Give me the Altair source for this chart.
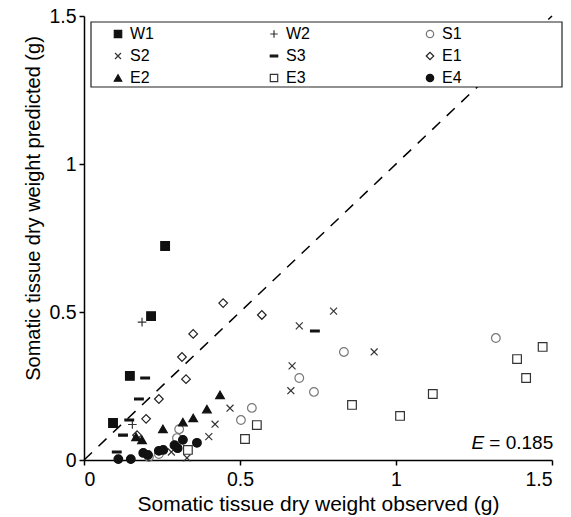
import altair as alt
import pandas as pd

series_names = ["W1", "W2", "S1", "S2", "S3", "E1", "E2", "E3", "E4"]

w1_x = [0.093, 0.147, 0.215, 0.260]
w1_y = [0.125, 0.284, 0.486, 0.723]
w2_x = [0.186, 0.155]
w2_y = [0.466, 0.120]
s1_x = [1.320, 0.833, 0.690, 0.737, 0.538, 0.503, 0.305, 0.298, 0.208, 0.240]
s1_y = [0.412, 0.365, 0.277, 0.230, 0.176, 0.135, 0.104, 0.074, 0.010, 0.020]
s2_x = [0.800, 0.690, 0.930, 0.667, 0.663, 0.468, 0.420, 0.400, 0.330, 0.280]
s2_y = [0.503, 0.453, 0.365, 0.318, 0.234, 0.175, 0.121, 0.079, 0.007, 0.027]
s3_x = [0.196, 0.176, 0.125, 0.105, 0.740, 0.145]
s3_y = [0.277, 0.206, 0.084, 0.027, 0.436, 0.135]
e1_x = [0.446, 0.570, 0.350, 0.314, 0.327, 0.240, 0.199, 0.170]
e1_y = [0.530, 0.490, 0.426, 0.348, 0.273, 0.206, 0.139, 0.084]
e2_x = [0.436, 0.394, 0.350, 0.317, 0.253, 0.167, 0.186]
e2_y = [0.220, 0.172, 0.142, 0.128, 0.105, 0.078, 0.068]
e3_x = [1.470, 1.388, 1.417, 1.118, 1.013, 0.859, 0.554, 0.516, 0.333]
e3_y = [0.382, 0.341, 0.277, 0.223, 0.149, 0.186, 0.118, 0.071, 0.034]
e4_x = [0.110, 0.150, 0.190, 0.205, 0.240, 0.254, 0.290, 0.300, 0.317, 0.362]
e4_y = [0.003, 0.003, 0.024, 0.017, 0.031, 0.034, 0.050, 0.040, 0.068, 0.058]

tick_values = [0, 0.5, 1, 1.5]

line_x = [0.0, 1.5]
line_y = [0.0, 1.5]

annot_E = "E"
annot_val = "= 0.185"

all_x = [w1_x, w2_x, s1_x, s2_x, s3_x, e1_x, e2_x, e3_x, e4_x]
all_y = [w1_y, w2_y, s1_y, s2_y, s3_y, e1_y, e2_y, e3_y, e4_y]

rows = []
for name, xs, ys in zip(series_names, all_x, all_y):
    for xv, yv in zip(xs, ys):
        rows.append({"series": name, "obs": xv, "pred": yv})
df = pd.DataFrame(rows)

plus = "M-1,0L1,0M0,-1L0,1"
cross = "M-0.8,-0.8L0.8,0.8M-0.8,0.8L0.8,-0.8"
dash = "M-1,-0.22L1,-0.22L1,0.22L-1,0.22Z"
shapes = ["square", plus, "circle", cross, dash, "diamond", "triangle-up", "square", "circle"]
fills = ["#111111", "transparent", "transparent", "transparent", "#111111",
         "transparent", "#111111", "transparent", "#111111"]
strokes = ["#111111", "#333333", "#777777", "#333333", "#111111",
           "#222222", "#111111", "#333333", "#111111"]

FONT = "Liberation Sans"
xscale = alt.Scale(domain=[0, 1.5], nice=False, zero=False)
yscale = alt.Scale(domain=[0, 1.5], nice=False, zero=False)

legend = alt.Legend(
    orient="none", legendX=26, legendY=10, columns=3, columnPadding=112,
    rowPadding=6, labelFontSize=16, labelFont=FONT, labelColor="black",
    labelOffset=4, symbolSize=55, symbolStrokeWidth=1.2, padding=0,
    direction="horizontal", title=None,
)

xaxis = alt.Axis(values=tick_values, format=".1~f", labelPadding=5, titlePadding=5, titleFontSize=21)
yaxis = alt.Axis(values=tick_values, format=".1~f", labelPadding=3, titleFontSize=20,
                 titleX=-51, titleY=192, titleBaseline="middle")

points = alt.Chart(df).mark_point(size=75, strokeWidth=1.2, opacity=1).encode(
    x=alt.X("obs:Q", scale=xscale, axis=xaxis, title="Somatic tissue dry weight observed (g)"),
    y=alt.Y("pred:Q", scale=yscale, axis=yaxis, title="Somatic tissue dry weight predicted (g)"),
    shape=alt.Shape("series:N", scale=alt.Scale(domain=series_names, range=shapes), legend=legend, title=None),
    fill=alt.Fill("series:N", scale=alt.Scale(domain=series_names, range=fills), legend=legend, title=None),
    stroke=alt.Stroke("series:N", scale=alt.Scale(domain=series_names, range=strokes), legend=legend, title=None),
)

line = alt.Chart(pd.DataFrame({"obs": line_x, "pred": line_y})).mark_line(
    color="black", strokeWidth=1.5, strokeDash=[11, 9]
).encode(x=alt.X("obs:Q", scale=xscale), y=alt.Y("pred:Q", scale=yscale))

box = alt.Chart(pd.DataFrame({"a": [0]})).mark_rect(
    fill="white", stroke="#222222", strokeWidth=1.2
).encode(x=alt.value(7), x2=alt.value(478), y=alt.value(6), y2=alt.value(71))

annot_df = pd.DataFrame({"obs": [1.283], "pred": [0.057], "e": [annot_E], "v": [annot_val]})
t_e = alt.Chart(annot_df).mark_text(
    align="right", baseline="middle", fontSize=19, font=FONT, fontStyle="italic", color="black"
).encode(x=alt.X("obs:Q", scale=xscale), y=alt.Y("pred:Q", scale=yscale), text="e:N")
t_v = alt.Chart(annot_df).mark_text(
    align="left", baseline="middle", fontSize=19, font=FONT, color="black", dx=5
).encode(x=alt.X("obs:Q", scale=xscale), y=alt.Y("pred:Q", scale=yscale), text="v:N")

chart = alt.layer(line, box, points, t_e, t_v).properties(
    width=468, height=444,
    autosize=alt.AutoSizeParams(type="none"),
    padding={"left": 84, "top": 16, "right": 19, "bottom": 57},
).configure_view(stroke=None).configure_axis(
    grid=False, domainColor="black", domainWidth=1.5, tickColor="black", tickWidth=1.5,
    tickSize=5, labelFont=FONT, labelFontSize=19.5, labelColor="black",
    titleFont=FONT, titleFontWeight="normal", titleColor="black",
)

chart.save("out.html", embed_options={"renderer": "svg", "actions": False})
